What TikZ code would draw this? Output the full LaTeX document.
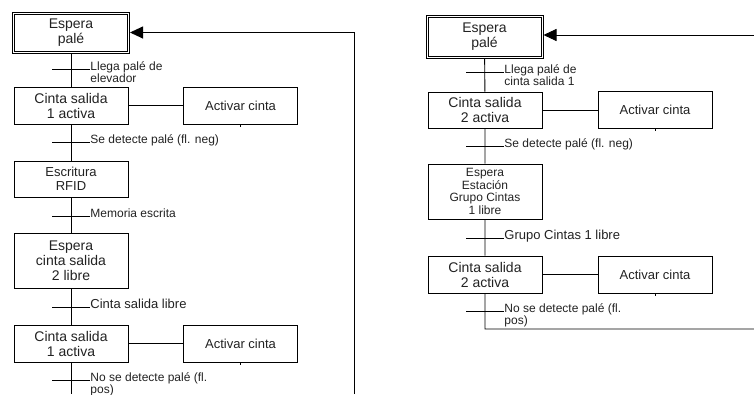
\documentclass[tikz,border=0pt]{standalone}
\usepackage{fontspec}
\setmainfont{Liberation Sans}
\usetikzlibrary{arrows.meta,fit}
\definecolor{ink}{HTML}{222222}
\begin{document}
\begin{tikzpicture}[x=1pt,y=-1pt,line width=0.9pt,
  stepbox/.style={draw,inner sep=0pt,minimum width=114pt,align=center,text=ink,
    font=\fontsize{14}{15}\selectfont},
  actbox/.style={draw,inner sep=0pt,minimum width=114pt,minimum height=37pt,text=ink,
    font=\fontsize{13}{15}\selectfont},
  cond/.style={anchor=base west,inner sep=0pt,text=ink,align=left,
    font=\fontsize{12}{12}\selectfont},
  outerframe/.style={draw,inner sep=1.6pt},
  flow/.style={-{Triangle[length=13pt,width=12pt]}}
]
\useasboundingbox (0,0) rectangle (754,394);

% ---------- left sequence ----------
\node[stepbox,minimum width=113pt,minimum height=37pt] (ep1) at (71,32.5) {Espera\\palé};
\node[outerframe,fit=(ep1)] (ep1o) {};
\node[stepbox,minimum height=37pt] (c1) at (71,105.5) {Cinta salida\\1 activa};
\node[actbox] (a1) at (240.5,105.5) {Activar cinta};
\node[stepbox,minimum height=36pt,font=\fontsize{13}{14}\selectfont] (rf) at (71,179) {Escritura\\RFID};
\node[stepbox,minimum height=55pt] (ec) at (71,260.5) {Espera\\cinta salida\\2 libre};
\node[stepbox,minimum height=37pt] (c1b) at (71,343.5) {Cinta salida\\1 activa};
\node[actbox] (a1b) at (240.5,343.5) {Activar cinta};

\coordinate (t11) at (71,69);
\coordinate (t12) at (71,142);
\coordinate (t13) at (71,216);
\coordinate (t14) at (71,307);
\coordinate (t15) at (71,380);
\coordinate (lbot) at (71,394);
\coordinate (fb) at (354,394);

\draw (ep1o) -- (c1) -- (rf) -- (ec) -- (c1b) -- (lbot);
\draw (c1) -- (a1);
\draw (c1b) -- (a1b);
\draw (a1.south) -- ++(0,2.5);
\draw (a1b.south) -- ++(0,2.5);
\foreach \t in {t11,t12,t13,t14,t15}
  \draw ([xshift=-19pt]\t) -- ([xshift=19pt]\t);

% two-line labels: the base anchor sits on the last line
\node[cond] (l11) at ([xshift=19pt,yshift=-13.5pt]t11) {Llega palé de\\elevador};
\node[cond] (l12) at ([xshift=19pt,yshift=-1.5pt]t12) {Se detecte palé (fl. neg)};
\node[cond] (l13) at ([xshift=19pt,yshift=-1.5pt]t13) {Memoria escrita};
\node[cond,font=\fontsize{13}{13}\selectfont] (l14) at ([xshift=19pt,yshift=-1.5pt]t14) {Cinta salida libre};
\node[cond] (l15) at ([xshift=19pt,yshift=-13.5pt]t15) {No se detecte palé (fl.\\pos)};

\draw[flow] (fb) |- (ep1o.east);

% ---------- right sequence ----------
\node[stepbox,minimum width=113pt,minimum height=39pt] (ep2) at (484.5,36.5) {Espera\\palé};
\node[outerframe,fit=(ep2)] (ep2o) {};
\node[stepbox,minimum height=36pt] (c2) at (485,110) {Cinta salida\\2 activa};
\node[actbox] (a2) at (655,110) {Activar cinta};
\node[stepbox,minimum height=55pt,font=\fontsize{12}{12.7}\selectfont] (eg) at (485,191.5) {Espera\\Estación\\Grupo Cintas\\1 libre};
\node[stepbox,minimum height=37pt] (c2b) at (485,274.5) {Cinta salida\\2 activa};
\node[actbox] (a2b) at (655,274.5) {Activar cinta};

\coordinate (t21) at (485,72);
\coordinate (t22) at (485,146);
\coordinate (t23) at (485,238);
\coordinate (t24) at (485,311);
\coordinate (rend) at (485,329);
\coordinate (rout) at (754,329);
\coordinate (rin) at (754,35);

\draw (ep2o) -- (c2) -- (eg) -- (c2b) -- (rend) -- (rout);
\draw (c2) -- (a2);
\draw (c2b) -- (a2b);
\draw (a2.south) -- ++(0,2.5);
\draw (a2b.south) -- ++(0,2.5);
\foreach \t in {t21,t22,t23,t24}
  \draw ([xshift=-19pt]\t) -- ([xshift=19pt]\t);

\node[cond] (l21) at ([xshift=19pt,yshift=-13.5pt]t21) {Llega palé de\\cinta salida 1};
\node[cond] (l22) at ([xshift=19pt,yshift=-1.5pt]t22) {Se detecte palé (fl. neg)};
\node[cond,font=\fontsize{13}{13}\selectfont] (l23) at ([xshift=19pt,yshift=-1.5pt]t23) {Grupo Cintas 1 libre};
\node[cond] (l24) at ([xshift=19pt,yshift=-13.5pt]t24) {No se detecte palé (fl.\\pos)};

\draw[flow] (rin) -- (rin -| ep2o.east);
\end{tikzpicture}
\end{document}
